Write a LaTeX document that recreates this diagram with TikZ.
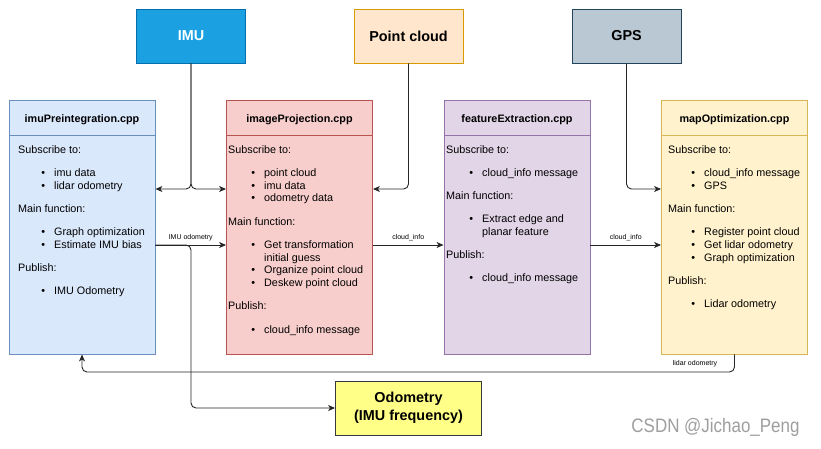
\documentclass[tikz,border=0pt]{standalone}
\usepackage{fontspec}
\setmainfont{Liberation Sans}
\newfontfamily\wmfont[FakeStretch=0.87]{Liberation Sans}
\usetikzlibrary{arrows.meta}
\definecolor{imufill}{HTML}{1BA1E2}
\definecolor{imuline}{HTML}{006EAF}
\definecolor{pclfill}{HTML}{FFE6CC}
\definecolor{pclline}{HTML}{D79B00}
\definecolor{gpsfill}{HTML}{BAC8D3}
\definecolor{gpsline}{HTML}{23445D}
\definecolor{prefill}{HTML}{DAE8FC}
\definecolor{preline}{HTML}{6C8EBF}
\definecolor{projfill}{HTML}{F8CECC}
\definecolor{projline}{HTML}{B85450}
\definecolor{featfill}{HTML}{E1D5E7}
\definecolor{featline}{HTML}{9673A6}
\definecolor{mapfill}{HTML}{FFF2CC}
\definecolor{mapline}{HTML}{D6B656}
\definecolor{odomfill}{HTML}{FFFF88}
\definecolor{odomline}{HTML}{36393D}
\newcommand{\itm}[1]{\makebox[36pt][r]{\textbullet\hspace{9pt}}#1}
\newcommand{\itmc}[1]{\hspace*{36pt}#1}
\begin{document}
\begin{tikzpicture}[x=1pt,y=-1pt,>={Stealth[length=7pt,width=6pt,inset=2pt]}]
\fontsize{10.8pt}{12.8pt}\selectfont
\tikzstyle{arrow}=[->,draw=black!85,line width=0.9pt]
\tikzstyle{cppbox}=[draw,line width=0.9pt,minimum width=146pt,minimum height=254pt,inner sep=0pt]
\tikzstyle{srcbox}=[draw,line width=0.9pt,minimum width=109pt,minimum height=54pt,font=\fontsize{14.4pt}{18pt}\selectfont\bfseries]
\tikzstyle{title}=[font=\bfseries]
\tikzstyle{body}=[anchor=north west,align=left,inner sep=0pt]
\tikzstyle{lbl}=[font=\fontsize{7pt}{8pt}\selectfont,inner sep=1pt]
	\useasboundingbox (0,0) rectangle (821,448);

	\node[srcbox,fill=imufill,draw=imuline,text=white] (imu) at (191,36) {IMU};
	\node[srcbox,fill=pclfill,draw=pclline] (pcl) at (408.5,36) {Point cloud};
	\node[srcbox,fill=gpsfill,draw=gpsline] (gps) at (626.5,36) {GPS};

	\node[cppbox,fill=prefill,draw=preline] (imupre) at (82,227) {};
	\node[cppbox,fill=projfill,draw=projline] (imgproj) at (299.5,227) {};
	\node[cppbox,fill=featfill,draw=featline] (featex) at (517,227) {};
	\node[cppbox,fill=mapfill,draw=mapline] (mapopt) at (734.5,227) {};

	\draw[preline,line width=0.9pt] ([yshift=-36pt]imupre.north west) -- ([yshift=-36pt]imupre.north east);
	\draw[projline,line width=0.9pt] ([yshift=-36pt]imgproj.north west) -- ([yshift=-36pt]imgproj.north east);
	\draw[featline,line width=0.9pt] ([yshift=-36pt]featex.north west) -- ([yshift=-36pt]featex.north east);
	\draw[mapline,line width=0.9pt] ([yshift=-36pt]mapopt.north west) -- ([yshift=-36pt]mapopt.north east);

	\node[title] (imupreT) at (82,120) {imuPreintegration.cpp};
	\node[title] (imgprojT) at (299.5,120) {imageProjection.cpp};
	\node[title] (featexT) at (517,120) {featureExtraction.cpp};
	\node[title] (mapoptT) at (734.5,120) {mapOptimization.cpp};

	\node[body] (imupreB) at (18,145) {Subscribe to:\\[10.4pt]
		\itm{imu data}\\ \itm{lidar odometry}\\[10.4pt]
		Main function:\\[10.4pt]
		\itm{Graph optimization}\\ \itm{Estimate IMU bias}\\[10.4pt]
		Publish:\\[10.4pt]
		\itm{IMU Odometry}};
	\node[body] (imgprojB) at (228,145) {Subscribe to:\\[10.4pt]
		\itm{point cloud}\\ \itm{imu data}\\ \itm{odometry data}\\[10.4pt]
		Main function:\\[10.4pt]
		\itm{Get transformation}\\ \itmc{initial guess}\\ \itm{Organize point cloud}\\ \itm{Deskew point cloud}\\[10.4pt]
		Publish:\\[10.4pt]
		\itm{cloud\_info message}};
	\node[body] (featexB) at (446,145) {Subscribe to:\\[10.4pt]
		\itm{cloud\_info message}\\[10.4pt]
		Main function:\\[10.4pt]
		\itm{Extract edge and}\\ \itmc{planar feature}\\[10.4pt]
		Publish:\\[10.4pt]
		\itm{cloud\_info message}};
	\node[body] (mapoptB) at (668,145) {Subscribe to:\\[10.4pt]
		\itm{cloud\_info message}\\ \itm{GPS}\\[10.4pt]
		Main function:\\[10.4pt]
		\itm{Register point cloud}\\ \itm{Get lidar odometry}\\ \itm{Graph optimization}\\[10.4pt]
		Publish:\\[10.4pt]
		\itm{Lidar odometry}};

	\node[draw=odomline,fill=odomfill,line width=0.9pt,minimum width=146pt,minimum height=54pt,align=center,
		font=\fontsize{14.4pt}{18pt}\selectfont\bfseries] (odom) at (408.5,408) {Odometry\\(IMU frequency)};

	\coordinate (subY) at (0,189);
	\coordinate (msgY) at (0,245);
	\coordinate (lidY) at (0,372);

	\draw[arrow,rounded corners=5pt] (imu.south) |- (subY -| imupre.east);
	\draw[arrow,rounded corners=5pt] (imu.south) |- (subY -| imgproj.west);
	\draw[arrow,rounded corners=5pt] (pcl.south) |- (subY -| imgproj.east);
	\draw[arrow,rounded corners=5pt] (gps.south) |- (subY -| mapopt.west);

	\draw[arrow] (msgY -| imupre.east) -- node[lbl,above=3pt] (imuodoT) {IMU odometry} (msgY -| imgproj.west);
	\draw[arrow] (msgY -| imgproj.east) -- node[lbl,above=3pt] (cinfoA) {cloud\_info} (msgY -| featex.west);
	\draw[arrow] (msgY -| featex.east) -- node[lbl,above=3pt] (cinfoB) {cloud\_info} (msgY -| mapopt.west);

	\draw[arrow,rounded corners=5pt] (msgY -| imupre.east) -| (imu.south |- odom.west) -- (odom.west);
	\draw[arrow,rounded corners=5pt] (mapopt.south) |- (lidY -| imupre.south) -- (imupre.south);
	\node[lbl] (lidT) at (695,364) {lidar odometry};

	\node[text=black!38,font=\wmfont\fontsize{19.5pt}{20pt}\selectfont] (mark) at (715.5,427) {CSDN @Jichao\_Peng};
\end{tikzpicture}
\end{document}
